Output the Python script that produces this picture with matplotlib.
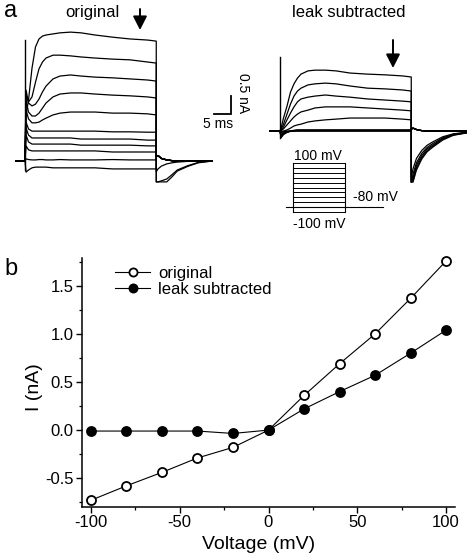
import matplotlib
matplotlib.use("Agg")
import matplotlib.pyplot as plt

plt.rcParams['font.family'] = ['Liberation Sans', 'DejaVu Sans']
plt.rcParams['axes.unicode_minus'] = False

W, H = 467, 559

# ------------------------------------------------------------------ data
voltages = [-100, -80, -60, -40, -20, 0, 20, 40, 60, 80, 100]      # mV
iv_original = [-0.73, -0.58, -0.44, -0.29, -0.18, 0.0, 0.36, 0.69, 1.00, 1.37, 1.76]   # nA
iv_leak = [-0.01, -0.01, -0.01, -0.01, -0.035, 0.0, 0.22, 0.40, 0.57, 0.80, 1.04]      # nA
holding_mv = -80

# current traces (ms, nA relative to holding current)
step_t = [0.3, 1, 2, 3, 4, 5, 6, 8, 10, 13, 16, 20, 25, 30, 35, 37.5]
step_end = 37.5
tail_dt = [0, 0.5, 1.5, 3, 4.5, 6, 9, 12, 16]
orig_pre_t = [-2.6, 0]
leak_pre_t = [-2.9, 0]

orig_step = [
    [-0.31, -0.25, -0.19, -0.17, -0.17, -0.17, -0.17, -0.19, -0.19, -0.19, -0.19, -0.19, -0.22, -0.22, -0.22, -0.22],
    [0.06, 0.04, 0.03, 0.03, 0.04, 0.04, 0.03, 0.03, 0.04, 0.03, 0.03, 0.03, 0.04, 0.03, 0.03, 0.03],
    [0.42, 0.31, 0.28, 0.28, 0.28, 0.28, 0.28, 0.28, 0.28, 0.28, 0.28, 0.28, 0.25, 0.25, 0.25, 0.25],
    [0.72, 0.53, 0.47, 0.47, 0.47, 0.47, 0.47, 0.47, 0.47, 0.47, 0.44, 0.44, 0.44, 0.44, 0.42, 0.42],
    [0.92, 0.72, 0.64, 0.64, 0.64, 0.64, 0.64, 0.64, 0.64, 0.64, 0.61, 0.61, 0.61, 0.61, 0.58, 0.58],
    [1.08, 0.89, 0.83, 0.83, 0.83, 0.83, 0.83, 0.83, 0.83, 0.83, 0.83, 0.83, 0.81, 0.81, 0.80, 0.80],
    [1.42, 1.17, 1.06, 1.06, 1.08, 1.14, 1.19, 1.28, 1.33, 1.36, 1.36, 1.36, 1.33, 1.33, 1.31, 1.28],
    [1.69, 1.36, 1.25, 1.25, 1.33, 1.47, 1.61, 1.78, 1.86, 1.89, 1.89, 1.86, 1.83, 1.81, 1.78, 1.75],
    [1.97, 1.61, 1.53, 1.58, 1.72, 1.92, 2.08, 2.28, 2.36, 2.39, 2.36, 2.33, 2.31, 2.28, 2.25, 2.22],
    [1.83, 1.64, 1.78, 2.19, 2.56, 2.75, 2.86, 2.94, 2.94, 2.92, 2.89, 2.86, 2.83, 2.81, 2.75, 2.72],
    [1.28, 1.69, 2.58, 3.17, 3.39, 3.47, 3.50, 3.53, 3.56, 3.58, 3.56, 3.50, 3.44, 3.39, 3.36, 3.33],
]
orig_tail_small = [0.12, 0.15, 0.07, 0.03, 0.01, 0.0, 0.0, 0.0, 0.0]
orig_tail = [orig_tail_small] * 8 + [
    [-0.30, -0.22, -0.14, -0.08, -0.05, -0.03, -0.01, 0.0, 0.0],
    [-0.58, -0.58, -0.55, -0.50, -0.38, -0.25, -0.13, -0.04, 0.0],
    [-0.58, -0.58, -0.58, -0.58, -0.44, -0.28, -0.15, -0.05, 0.0],
]
orig_spike = [3.36, -0.25]

leak_step = [
    [-0.10, -0.05, -0.02, -0.01, 0.0, 0.0, 0.0, 0.0, 0.0, 0.0, 0.0, 0.0, 0.0, 0.0, 0.0, 0.0],
    [-0.05, -0.02, 0.0, 0.0, 0.0, 0.0, 0.0, 0.0, 0.0, 0.0, 0.0, 0.0, 0.0, 0.0, 0.0, 0.0],
    [-0.12, -0.06, -0.02, -0.01, 0.01, 0.01, 0.01, 0.01, 0.01, 0.01, 0.01, 0.01, 0.01, 0.01, 0.01, 0.01],
    [-0.15, -0.07, -0.02, 0.0, 0.01, 0.02, 0.02, 0.02, 0.02, 0.02, 0.02, 0.02, 0.02, 0.02, 0.02, 0.02],
    [-0.19, -0.10, -0.04, -0.01, 0.01, 0.02, 0.02, 0.02, 0.02, 0.02, 0.02, 0.02, 0.02, 0.02, 0.02, 0.02],
    [-0.17, -0.08, -0.03, 0.0, 0.02, 0.03, 0.03, 0.03, 0.03, 0.03, 0.03, 0.03, 0.03, 0.03, 0.03, 0.03],
    [-0.03, 0.0, 0.03, 0.08, 0.14, 0.17, 0.19, 0.25, 0.28, 0.31, 0.33, 0.36, 0.36, 0.36, 0.33, 0.31],
    [0.0, 0.06, 0.17, 0.28, 0.39, 0.47, 0.53, 0.58, 0.64, 0.67, 0.67, 0.67, 0.64, 0.61, 0.58, 0.56],
    [0.03, 0.11, 0.31, 0.50, 0.67, 0.81, 0.89, 0.94, 0.97, 1.00, 0.97, 0.94, 0.89, 0.86, 0.83, 0.81],
    [0.06, 0.19, 0.47, 0.75, 0.97, 1.11, 1.19, 1.28, 1.31, 1.33, 1.31, 1.25, 1.19, 1.17, 1.14, 1.11],
    [0.08, 0.36, 0.69, 1.08, 1.31, 1.47, 1.58, 1.67, 1.69, 1.69, 1.67, 1.61, 1.58, 1.56, 1.53, 1.50],
]
leak_tail_small = [0.05, 0.08, 0.04, 0.01, 0.0, 0.0, 0.0, 0.0, 0.0]
leak_tail = [leak_tail_small] * 6 + [
    [-1.30, -1.05, -0.76, -0.54, -0.40, -0.31, -0.16, -0.08, -0.03],
    [-1.42, -1.20, -0.88, -0.62, -0.46, -0.36, -0.19, -0.09, -0.04],
    [-1.42, -1.30, -0.95, -0.68, -0.50, -0.40, -0.21, -0.10, -0.04],
    [-1.42, -1.38, -1.02, -0.73, -0.54, -0.43, -0.23, -0.11, -0.05],
    [-1.42, -1.42, -1.08, -0.78, -0.58, -0.46, -0.25, -0.12, -0.05],
]
leak_spike = [2.06, -0.19]

# ------------------------------------------------------------------ layout helpers
fig = plt.figure(figsize=(W / 100, H / 100), dpi=100)
PX_MS = 3.5     # pixels per ms in panel a
PX_NA = 36.0    # pixels per nA in panel a


def frac(x, y):
    return x / W, 1 - y / H


def px_axes(x0, y0, x1, y1):
    ax = fig.add_axes([x0 / W, 1 - y1 / H, (x1 - x0) / W, (y1 - y0) / H])
    ax.set_axis_off()
    return ax


def ftext(x, y, s, **kw):
    fx, fy = frac(x, y)
    fig.text(fx, fy, s, **kw)


def trace_axes(x0, x1, onset_px, base_px):
    ax = px_axes(x0, 0, x1, 240)
    ax.set_xlim((x0 - onset_px) / PX_MS, (x1 - onset_px) / PX_MS)
    ax.set_ylim((base_px - 240) / PX_NA, base_px / PX_NA)
    return ax


def draw_traces(ax, pre_t, steps, tails, spike):
    for st, tl in zip(steps, tails):
        t = list(pre_t) + step_t + [step_end + d for d in tail_dt]
        i = [0.0] * len(pre_t) + st + tl
        ax.plot(t, i, color='black', lw=0.9, clip_on=False)
    ax.plot([0.05, 0.05], spike, color='black', lw=1.0)


# ------------------------------------------------------------------ panel a
ax_o = trace_axes(0, 240, 25, 161)
draw_traces(ax_o, orig_pre_t, orig_step, orig_tail, orig_spike)
# scale bar 5 ms / 0.5 nA
sb_t, sb_i = 58.9, 1.31
ax_o.plot([sb_t - 5, sb_t, sb_t], [sb_i, sb_i, sb_i + 0.5], color='black', lw=1.3,
          solid_joinstyle='miter', clip_on=False)

ax_l = trace_axes(240, 467, 280, 131)
draw_traces(ax_l, leak_pre_t, leak_step, leak_tail, leak_spike)

# voltage protocol
ax_p = px_axes(286, 163, 383, 212)
ax_p.set_xlim(-0.135, 1.73)
ax_p.set_ylim(-100, 100)
for v in voltages:
    ax_p.plot([0, 1], [v, v], color='black', lw=0.7, clip_on=False)
ax_p.plot([0, 0], [min(voltages), max(voltages)], color='black', lw=0.8, clip_on=False)
ax_p.plot([1, 1], [min(voltages), max(voltages)], color='black', lw=0.8, clip_on=False)
ax_p.plot([-0.135, 1.73], [holding_mv, holding_mv], color='black', lw=0.8, clip_on=False)

# arrows
arrow_kw = dict(arrowstyle='-|>,head_length=0.55,head_width=0.28', lw=1.4,
                color='black', mutation_scale=15, shrinkA=0, shrinkB=0)
fig.add_artist(matplotlib.patches.FancyArrowPatch(frac(140, 9), frac(140, 30),
                                                  transform=fig.transFigure, **arrow_kw))
fig.add_artist(matplotlib.patches.FancyArrowPatch(frac(393, 40), frac(393, 68),
                                                  transform=fig.transFigure, **arrow_kw))

ftext(4, 16.7, 'a', fontsize=17, ha='left', va='baseline')
ftext(92, 17, 'original', fontsize=12, ha='center', va='baseline')
ftext(349, 17, 'leak subtracted', fontsize=12, ha='center', va='baseline')
ftext(218, 128, '5 ms', fontsize=10, ha='center', va='baseline')
ftext(243, 93, '0.5 nA', fontsize=10, ha='center', va='center', rotation=270)
ftext(318, 160, '100 mV', fontsize=10, ha='center', va='baseline')
ftext(353, 200.5, '-80 mV', fontsize=10, ha='left', va='baseline')
ftext(319, 228, '-100 mV', fontsize=10, ha='center', va='baseline')

# ------------------------------------------------------------------ panel b
ax = fig.add_axes([82 / W, 1 - 507 / H, (455 - 82) / W, (507 - 258) / H])
ax.plot(voltages, iv_original, '-o', color='black', lw=0.8, ms=6.5,
        mfc='white', mec='black', mew=1.3, label='original', clip_on=False, zorder=3)
ax.plot(voltages, iv_leak, '-o', color='black', lw=0.8, ms=6.5,
        mfc='black', mec='black', mew=1.3, label='leak subtracted', clip_on=False, zorder=3)
ax.set_xlim(-105, 105)
ax.set_ylim(-0.80, 1.79)
ax.set_xticks([-100, -50, 0, 50, 100])
ax.set_xticks([-75, -25, 25, 75], minor=True)
ax.set_yticks([-0.5, 0.0, 0.5, 1.0, 1.5])
ax.set_yticks([-0.75, -0.25, 0.25, 0.75, 1.25, 1.75], minor=True)
ax.set_yticklabels(['-0.5', '0.0', '0.5', '1.0', '1.5'])
for s in ['top', 'right']:
    ax.spines[s].set_visible(False)
for s in ['left', 'bottom']:
    ax.spines[s].set_linewidth(1.1)
ax.tick_params(which='major', direction='out', length=4, width=1.0, labelsize=12, pad=2)
ax.tick_params(which='minor', direction='out', length=2.5, width=0.9)
ax.set_xlabel('Voltage (mV)', fontsize=14)
ax.set_ylabel('I (nA)', fontsize=14)
ax.xaxis.set_label_coords((259 - 82) / 373, (507 - 536) / 249)
ax.yaxis.set_label_coords((43 - 82) / 373, (507 - 387) / 249)
ax.legend(loc='upper left', bbox_to_anchor=((115 - 82) / 373, (507 - 266) / 249),
          frameon=False, fontsize=12, handlelength=2.1, handletextpad=0.5,
          borderpad=0, borderaxespad=0, labelspacing=0.05, markerscale=0.9)
ftext(4, 275, 'b', fontsize=17, ha='left', va='baseline')

fig.savefig('out.png', dpi=100)
